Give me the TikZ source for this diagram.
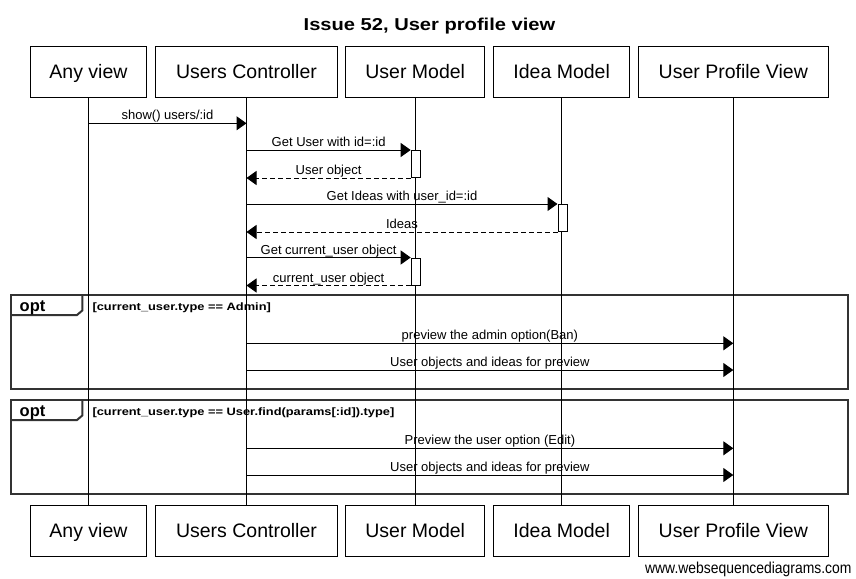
\documentclass[tikz,border=0pt]{standalone}
\usepackage{fontspec}
\setmainfont{Liberation Sans}
\newfontfamily\widebold[FakeStretch=1.17]{Liberation Sans}
\newfontfamily\guardfont[FakeStretch=1.2]{Liberation Sans}
\newfontfamily\footfont[FakeStretch=0.88]{Liberation Sans}
\usetikzlibrary{arrows.meta}
\begin{document}
\begin{tikzpicture}[x=1pt,y=-1pt,
  part/.style={draw,line width=1pt,inner sep=0pt,minimum height=51pt,text height=13pt,text depth=0pt,font=\fontsize{19.5}{22}\selectfont},
  life/.style={line width=1pt},
  msg/.style={line width=1pt,-{Triangle[length=10pt,width=14pt]}},
  ret/.style={msg,dash pattern=on 5pt off 3pt},
  lbl/.style={font=\fontsize{13}{15}\selectfont,inner sep=0pt,anchor=base,midway,yshift=3.5pt},
  act/.style={draw,fill=white,line width=1pt,minimum width=9pt,inner sep=0pt,minimum height=27pt},
  frame/.style={draw=black!80,line width=2pt},
  guard/.style={font=\guardfont\bfseries\fontsize{10.7}{12}\selectfont,anchor=base west,inner sep=0pt},
  optlbl/.style={font=\bfseries\fontsize{16.5}{18}\selectfont,anchor=base west,inner sep=0pt},
]
\useasboundingbox[fill=white] (0,0) rectangle (856,578);

% title
\node[font=\widebold\bfseries\fontsize{17.2}{20}\selectfont,anchor=base,inner sep=0pt] (title) at (429.5,30.7) {Issue 52, User profile view};

% participants (top)
\node[part,minimum width=116.5pt] (A) at (88.5,72) {Any view};
\node[part,minimum width=181.5pt] (UC) at (246.5,72) {Users Controller};
\node[part,minimum width=139.5pt] (UM) at (415.2,72) {User Model};
\node[part,minimum width=136.5pt] (IM) at (561.7,72) {Idea Model};
\node[part,minimum width=189.5pt] (UPV) at (733.3,72) {User Profile View};
% participants (bottom)
\node[part,minimum width=116.5pt] (A2) at (88.5,531) {Any view};
\node[part,minimum width=181.5pt] (UC2) at (246.5,531) {Users Controller};
\node[part,minimum width=139.5pt] (UM2) at (415.2,531) {User Model};
\node[part,minimum width=136.5pt] (IM2) at (561.7,531) {Idea Model};
\node[part,minimum width=189.5pt] (UPV2) at (733.3,531) {User Profile View};

% opt frames
\draw[frame] (11,295) rectangle (847.5,389.3);
\draw[frame] (82.3,295) -- (82.3,310.5) -- (77,315) -- (11,315);
\node[optlbl] (opt1) at (19.5,311.3) {opt};
\node[guard] (g1) at (92.3,310) {[current\_user.type == Admin]};

\draw[frame] (11,400) rectangle (847.5,494.3);
\draw[frame] (82.3,400) -- (82.3,415.5) -- (77,420) -- (11,420);
\node[optlbl] (opt2) at (19.5,416.3) {opt};
\node[guard] (g2) at (92.3,415) {[current\_user.type == User.find(params[:id]).type]};

% lifelines
\draw[life] (A.south) -- (A2.north);
\draw[life] (UC.south) -- (UC2.north);
\draw[life] (UM.south) -- (UM2.north);
\draw[life] (IM.south) -- (IM2.north);
\draw[life] (UPV.south) -- (UPV2.north);

% activation bars
\node[act] (b1) at (415.7,164) {};
\node[act] (b2) at (562.5,218) {};
\node[act] (b3) at (415.7,271.5) {};

% messages
\draw[msg] (A |- 0,123.3) -- node[lbl] {show() users/:id} (UC |- 0,123.3);
\draw[msg] (UC |- b1.north) -- node[lbl] {Get User with id=:id} (b1.north west);
\draw[ret] (b1.south west) -- node[lbl] {User object} (UC |- b1.south);
\draw[msg] (UC |- b2.north) -- node[lbl] {Get Ideas with user\_id=:id} (b2.north west);
\draw[ret] (b2.south west) -- node[lbl] {Ideas} (UC |- b2.south);
\draw[msg] (UC |- b3.north) -- node[lbl] {Get current\_user object} (b3.north west);
\draw[ret] (b3.south west) -- node[lbl] {current\_user object} (UC |- b3.south);

\draw[msg] (UC |- 0,343.3) -- node[lbl] {preview the admin option(Ban)} (UPV |- 0,343.3);
\draw[msg] (UC |- 0,370) -- node[lbl] {User objects and ideas for preview} (UPV |- 0,370);
\draw[msg] (UC |- 0,448.3) -- node[lbl] {Preview the user option (Edit)} (UPV |- 0,448.3);
\draw[msg] (UC |- 0,475) -- node[lbl] {User objects and ideas for preview} (UPV |- 0,475);

% footer
\node[font=\footfont\fontsize{15.8}{18}\selectfont,anchor=base east,inner sep=0pt] (foot) at (851.7,573.3) {www.websequencediagrams.com};
\end{tikzpicture}
\end{document}
